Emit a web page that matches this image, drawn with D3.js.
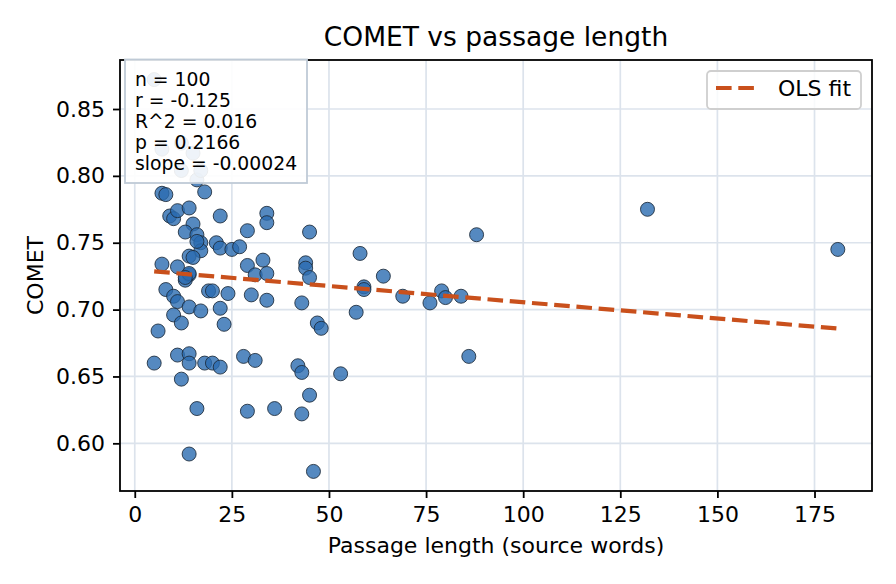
<!DOCTYPE html>
<html>
<head>
<meta charset="utf-8">
<script src="https://cdn.jsdelivr.net/npm/d3@7/dist/d3.min.js"></script>
<style>
body { margin: 0; background: #fff; }
text { font-family: "DejaVu Sans", sans-serif; }
</style>
</head>
<body>
<div id="chart-area"></div>
<script>
// passage length (source words), one per passage
const lengths = [
    5, 7, 15, 12, 16, 7, 8, 18, 9, 10,
    11, 14, 22, 34, 34, 15, 13, 16, 17, 21,
    22, 17, 25, 27, 29, 14, 15, 7, 11, 29,
    33, 31, 34, 14, 13, 8, 10, 11, 14, 19,
    20, 24, 30, 34, 17, 22, 10, 12, 23, 6,
    5, 11, 14, 14, 18, 20, 22, 28, 31, 12,
    16, 29, 14, 45, 44, 44, 45, 58, 64, 59,
    59, 69, 79, 80, 84, 76, 43, 57, 47, 48,
    42, 43, 53, 86, 45, 36, 43, 46, 88, 132,
    181, 14, 12, 16, 17, 13
]
// COMET score, same order
const comet = [
    0.872, 0.820, 0.817, 0.804, 0.797, 0.787, 0.786, 0.788, 0.770, 0.768,
    0.774, 0.776, 0.770, 0.772, 0.765, 0.764, 0.758, 0.756, 0.750, 0.750,
    0.746, 0.744, 0.745, 0.747, 0.759, 0.740, 0.739, 0.734, 0.732, 0.733,
    0.737, 0.726, 0.727, 0.726, 0.722, 0.715, 0.710, 0.706, 0.702, 0.714,
    0.714, 0.712, 0.711, 0.707, 0.699, 0.701, 0.696, 0.690, 0.689, 0.684,
    0.660, 0.666, 0.667, 0.660, 0.660, 0.660, 0.657, 0.665, 0.662, 0.648,
    0.626, 0.624, 0.592, 0.758, 0.735, 0.731, 0.724, 0.742, 0.725, 0.717,
    0.715, 0.710, 0.714, 0.709, 0.710, 0.705, 0.705, 0.698, 0.690, 0.686,
    0.658, 0.653, 0.652, 0.665, 0.636, 0.626, 0.622, 0.579, 0.756, 0.775,
    0.745, 0.727, 0.8245, 0.751, 0.804, 0.724
]
const xTicks = [0, 25, 50, 75, 100, 125, 150, 175]
const yTicks = [0.60, 0.65, 0.70, 0.75, 0.80, 0.85]
const statLines = ["n = 100", "r = -0.125", "R^2 = 0.016", "p = 0.2166", "slope = -0.00024"]
const fitIntercept = 0.7298
const fitSlope = -0.000243

const W = 896, H = 584
const MARGIN = { LEFT: 120, RIGHT: 24, TOP: 60, BOTTOM: 93 }
const WIDTH = W - MARGIN.LEFT - MARGIN.RIGHT
const HEIGHT = H - MARGIN.TOP - MARGIN.BOTTOM

const data = lengths.map((d, i) => ({ len: d, score: comet[i] }))

// matplotlib style 5% margins
function padded(ext) {
    const p = (ext[1] - ext[0]) * 0.05
    return [ext[0] - p, ext[1] + p]
}
const x = d3.scaleLinear().domain(padded(d3.extent(data, d => d.len))).range([0, WIDTH])
const y = d3.scaleLinear().domain(padded(d3.extent(data, d => d.score))).range([HEIGHT, 0])

const svg = d3.select("#chart-area").append("svg")
    .attr("width", W)
    .attr("height", H)

svg.append("text")
    .attr("x", MARGIN.LEFT + WIDTH / 2)
    .attr("y", 46)
    .attr("text-anchor", "middle")
    .style("font-size", "26.5px")
    .text("COMET vs passage length")

const g = svg.append("g")
    .attr("transform", `translate(${MARGIN.LEFT}, ${MARGIN.TOP})`)

// grid
const grid = g.append("g").attr("class", "grid")
grid.selectAll(".gx").data(xTicks).enter().append("line")
    .attr("x1", d => x(d)).attr("x2", d => x(d))
    .attr("y1", 0).attr("y2", HEIGHT)
grid.selectAll(".gy").data(yTicks).enter().append("line")
    .attr("x1", 0).attr("x2", WIDTH)
    .attr("y1", d => y(d)).attr("y2", d => y(d))
grid.selectAll("line")
    .attr("stroke", "#dce3ec")
    .attr("stroke-width", 1.7)

// points
g.append("g").attr("class", "points")
    .selectAll("circle").data(data).enter().append("circle")
    .attr("cx", d => x(d.len))
    .attr("cy", d => y(d.score))
    .attr("r", 7)
    .attr("fill", "#2b6cb0")
    .attr("fill-opacity", 0.8)
    .attr("stroke", "#1c2a3a")
    .attr("stroke-opacity", 0.85)
    .attr("stroke-width", 1)

// OLS fit
const xr = d3.extent(data, d => d.len)
const fitLine = d3.line()
    .x(d => x(d))
    .y(d => y(fitIntercept + fitSlope * d))
g.append("path")
    .attr("d", fitLine(xr))
    .attr("fill", "none")
    .attr("stroke", "#c9501c")
    .attr("stroke-width", 4.2)
    .attr("stroke-dasharray", "15.6,6.7")

// axes
const xAxis = g.append("g")
    .attr("transform", `translate(0, ${HEIGHT})`)
    .call(d3.axisBottom(x).tickValues(xTicks).tickSize(7).tickPadding(8).tickFormat(d3.format("d")))
const yAxis = g.append("g")
    .call(d3.axisLeft(y).tickValues(yTicks).tickSize(7).tickPadding(8).tickFormat(d3.format(".2f")))
for (const ax of [xAxis, yAxis]) {
    ax.select(".domain").remove()
    ax.selectAll(".tick line").attr("stroke", "#000").attr("stroke-width", 1.8)
    ax.selectAll(".tick text")
        .attr("fill", "#000")
        .style("font-size", "22px")
        .style("font-family", "DejaVu Sans, sans-serif")
}

// spines
g.append("rect")
    .attr("width", WIDTH)
    .attr("height", HEIGHT)
    .attr("fill", "none")
    .attr("stroke", "#000")
    .attr("stroke-width", 1.8)

svg.append("text")
    .attr("x", MARGIN.LEFT + WIDTH / 2)
    .attr("y", 553)
    .attr("text-anchor", "middle")
    .style("font-size", "22px")
    .text("Passage length (source words)")

svg.append("text")
    .attr("transform", `translate(43, ${MARGIN.TOP + HEIGHT / 2}) rotate(-90)`)
    .attr("text-anchor", "middle")
    .style("font-size", "22px")
    .text("COMET")

// stats box
const stats = g.append("g").attr("transform", "translate(5, -0.5)")
stats.append("rect")
    .attr("width", 182)
    .attr("height", 123.5)
    .attr("fill", "#fff")
    .attr("fill-opacity", 0.9)
    .attr("stroke", "#bfcad6")
    .attr("stroke-width", 1.8)
stats.selectAll("text").data(statLines).enter().append("text")
    .attr("x", 10)
    .attr("y", (d, i) => 26 + i * 21.2)
    .style("font-size", "18.8px")
    .text(d => d)

// legend
const legend = g.append("g").attr("transform", `translate(${WIDTH - 165}, 11)`)
legend.append("rect")
    .attr("width", 154)
    .attr("height", 38)
    .attr("rx", 4)
    .attr("fill", "#fff")
    .attr("fill-opacity", 0.8)
    .attr("stroke", "#cfcfcf")
    .attr("stroke-width", 1.8)
legend.append("line")
    .attr("x1", 9).attr("x2", 53)
    .attr("y1", 17).attr("y2", 17)
    .attr("stroke", "#c9501c")
    .attr("stroke-width", 4.2)
    .attr("stroke-dasharray", "15.6,6.7")
legend.append("text")
    .attr("x", 71)
    .attr("y", 25)
    .style("font-size", "22px")
    .text("OLS fit")
</script>
</body>
</html>
